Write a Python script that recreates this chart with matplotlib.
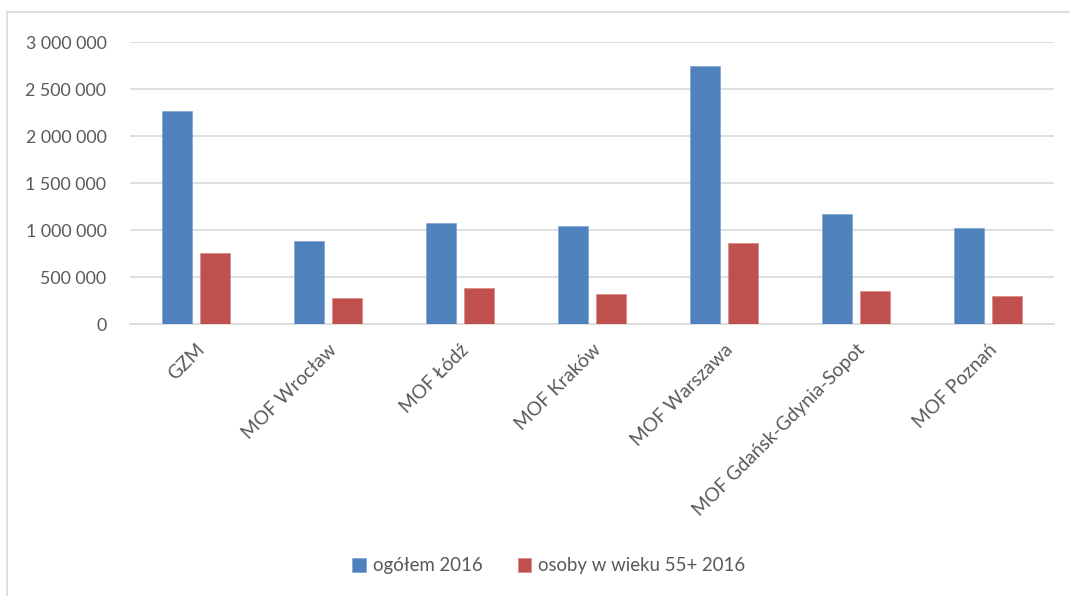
import matplotlib
matplotlib.use("Agg")
import matplotlib.pyplot as plt
import numpy as np
from matplotlib.patches import Rectangle
from matplotlib.ticker import FuncFormatter

categories = ["GZM", "MOF Wrocław", "MOF Łódź", "MOF Kraków", "MOF Warszawa",
              "MOF Gdańsk-Gdynia-Sopot", "MOF Poznań"]
ogolem_2016 = [2272000, 885000, 1079000, 1044000, 2753000, 1175000, 1021000]
osoby_55_2016 = [757000, 280000, 386000, 318000, 863000, 357000, 296000]
series_labels = ["ogółem 2016", "osoby w wieku 55+ 2016"]
yticks = [0, 500000, 1000000, 1500000, 2000000, 2500000, 3000000]

plt.rcParams['font.family'] = ['Lato', 'DejaVu Sans']
text_color = "#595959"

fig = plt.figure(figsize=(10.70, 5.96), dpi=100)
L, R, B, T = 130, 1054, 324.3, 42.3
ax = fig.add_axes([L/1070, 1-B/596, (R-L)/1070, (B-T)/596])

# figure border
fig.patches.append(Rectangle((7/1070, -0.01), 1.02, 1-12/596+0.01, transform=fig.transFigure,
                             fill=False, edgecolor="#d9d9d9", linewidth=1.2))

x = np.arange(len(categories))
w = 0.22
off = 0.144
ax.bar(x - off, ogolem_2016, w, color="#4F81BD", edgecolor="#7ea3d1", linewidth=0.5,
       label=series_labels[0], zorder=3)
ax.bar(x + off, osoby_55_2016, w, color="#C0504D", edgecolor="#d98886", linewidth=0.5,
       label=series_labels[1], zorder=3)

ax.set_xlim(-0.5, len(categories) - 0.5)
ax.set_ylim(0, 3000000)
ax.set_yticks(yticks)
ax.yaxis.set_major_formatter(FuncFormatter(lambda v, p: f"{int(v):,}".replace(",", " ")))
ax.grid(axis="y", color="#d9d9d9", linewidth=1.2, zorder=0)
for s in ["top", "right", "left"]:
    ax.spines[s].set_visible(False)
ax.spines["bottom"].set_color("#d9d9d9")
ax.spines["bottom"].set_linewidth(1.2)
ax.tick_params(axis="both", length=0, colors=text_color)
ax.tick_params(axis="y", pad=17, labelsize=12.8)
ax.set_xticks(x)
ax.set_xticklabels(categories, rotation=45, ha="right", va="top", rotation_mode="anchor")
ax.tick_params(axis="x", pad=12, labelsize=13.8)

leg = fig.legend(loc="center", bbox_to_anchor=(549/1070, 1-566/596), ncol=2, frameon=False,
                 fontsize=13.4, handlelength=0.7, handleheight=0.7, columnspacing=1.9,
                 handletextpad=0.4)
for t in leg.get_texts():
    t.set_color(text_color)

fig.savefig("out.png", dpi=100)
